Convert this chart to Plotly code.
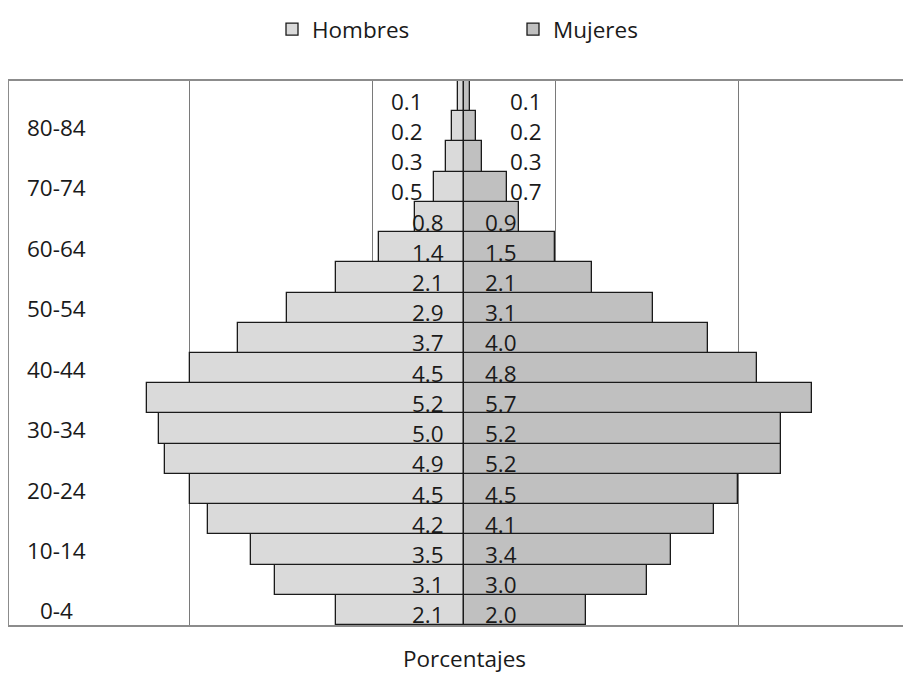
import plotly.graph_objects as go

age_groups = ["0-4", "5-9", "10-14", "15-19", "20-24", "25-29", "30-34", "35-39",
              "40-44", "45-49", "50-54", "55-59", "60-64", "65-69", "70-74",
              "75-79", "80-84", "85+"]
hombres = [2.1, 3.1, 3.5, 4.2, 4.5, 4.9, 5.0, 5.2, 4.5, 3.7, 2.9, 2.1, 1.4, 0.8, 0.5, 0.3, 0.2, 0.1]
mujeres = [2.0, 3.0, 3.4, 4.1, 4.5, 5.2, 5.2, 5.7, 4.8, 4.0, 3.1, 2.1, 1.5, 0.9, 0.7, 0.3, 0.2, 0.1]
shown_age_labels = age_groups[::2]

FONT = "Open Sans"
FS = 22.5
TXT = "#1a1a1a"

W, H = 903, 665
ML, MT, MB = 1, 72, 48
PW = W - ML
PH = H - MT - MB

fig = go.Figure()
fig.add_trace(go.Bar(
    name="Hombres", y=age_groups, x=[-v for v in hombres], orientation="h",
    marker=dict(color="#dadada", line=dict(color="#1a1a1a", width=1.3)),
    customdata=hombres, hovertemplate="%{y}: %{customdata}<extra>Hombres</extra>"))
fig.add_trace(go.Bar(
    name="Mujeres", y=age_groups, x=mujeres, orientation="h",
    marker=dict(color="#c0c0c0", line=dict(color="#1a1a1a", width=1.3)),
    hovertemplate="%{y}: %{x}<extra>Mujeres</extra>"))

annotations = []
for age, h, m in zip(age_groups, hombres, mujeres):
    hx = -0.295 if h >= 0.75 else -0.64
    mx = 0.31 if m >= 0.75 else 0.72
    annotations.append(dict(x=hx, y=age, xref="x", yref="y", text=f"{h:.1f}",
                            showarrow=False, xanchor="right", yanchor="middle", yshift=-5,
                            font=dict(family=FONT, size=FS, color=TXT)))
    annotations.append(dict(x=mx, y=age, xref="x", yref="y", text=f"{m:.1f}",
                            showarrow=False, xanchor="left", yanchor="middle", yshift=-5,
                            font=dict(family=FONT, size=FS, color=TXT)))
for lab in shown_age_labels:
    annotations.append(dict(x=(56 - 9) / PW, y=lab, xref="paper", yref="y", text=lab,
                            showarrow=False, xanchor="center", yanchor="middle", yshift=-1,
                            font=dict(family=FONT, size=FS, color=TXT)))
annotations.append(dict(x=0, y=(617 - 651) / PH, xref="x", yref="paper", text="Porcentajes",
                        showarrow=False, xanchor="center", yanchor="middle",
                        font=dict(family=FONT, size=FS, color=TXT)))

fig.update_layout(
    width=W, height=H,
    margin=dict(l=ML, r=0, t=MT, b=MB),
    paper_bgcolor="white", plot_bgcolor="white",
    barmode="overlay", bargap=0,
    font=dict(family=FONT, size=FS, color=TXT),
    showlegend=True,
    legend=dict(orientation="h", x=(264 - ML) / PW, xanchor="left",
                y=(617 - 20) / PH, yanchor="middle",
                entrywidth=196, entrywidthmode="pixels",
                font=dict(family=FONT, size=FS, color=TXT),
                bgcolor="rgba(0,0,0,0)"),
    annotations=annotations,
    xaxis=dict(range=[-7.459, 7.328], tickmode="linear", tick0=-7.5, dtick=3,
               showticklabels=False, showgrid=True, gridcolor="#7a7a7a", gridwidth=1,
               zeroline=False, showline=True, mirror=True, linecolor="#8c8c8c", linewidth=1.5,
               fixedrange=True),
    yaxis=dict(type="category", categoryorder="array", categoryarray=age_groups,
               range=[-0.5, 17.5], showticklabels=False, showgrid=False, zeroline=False,
               showline=True, linecolor="#8c8c8c", linewidth=1.5, fixedrange=True),
)

fig.write_html("out.html")
